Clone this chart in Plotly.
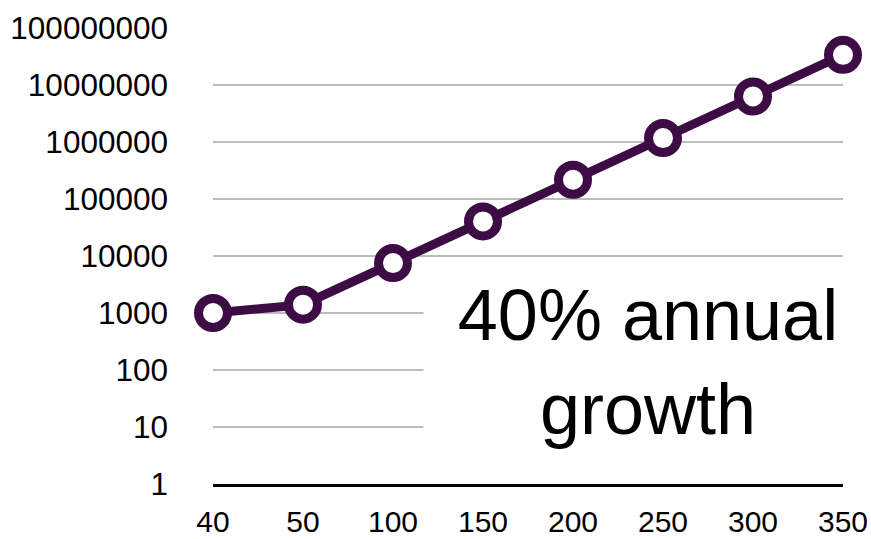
import plotly.graph_objects as go

categories = ["40", "50", "100", "150", "200", "250", "300", "350"]
values = [1000, 1400, 7500, 40500, 218000, 1170000, 6300000, 33800000]
y_tickvals = [1, 10, 100, 1000, 10000, 100000, 1000000, 10000000, 100000000]
y_ticktext = ["1", "10", "100", "1000", "10000", "100000", "1000000", "10000000", "100000000"]
note_text = "40% annual<br>growth"

FONT = "Liberation Sans, Arial, Helvetica, sans-serif"
PURPLE = "#3D0C45"

fig = go.Figure()
fig.add_trace(go.Scatter(
    x=categories, y=values, mode="lines+markers",
    line=dict(color=PURPLE, width=9),
    marker=dict(size=29, color="white", line=dict(color=PURPLE, width=9)),
    cliponaxis=False, showlegend=False,
))

fig.add_annotation(
    text=note_text, xref="paper", yref="paper",
    x=0.333, y=0.267, xanchor="left", yanchor="middle",
    showarrow=False, width=448, height=190, align="center",
    bgcolor="white", borderpad=0,
    font=dict(family=FONT, size=72, color="black"),
)

fig.update_layout(
    width=871, height=539,
    margin=dict(l=213, r=28, t=28, b=55, autoexpand=False),
    paper_bgcolor="white", plot_bgcolor="white",
    font=dict(family=FONT, size=31.5, color="black"),
)
fig.update_xaxes(
    type="category", range=[0, 7], showgrid=False, automargin=False,
    showline=True, linecolor="black", linewidth=2.5,
    ticks="", ticklabelstandoff=9,
    tickfont=dict(family=FONT, size=30, color="black"),
)
fig.update_yaxes(
    type="log", range=[0, 8], tickvals=y_tickvals, ticktext=y_ticktext,
    automargin=False,
    showgrid=True, gridcolor="#BDBDBD", gridwidth=2,
    showline=False, zeroline=False, ticks="", ticklabelstandoff=44,
    tickfont=dict(family=FONT, size=31.5, color="black"),
)

# remove the page's default body margin so the figure fills the window exactly
fig.write_html(
    "out.html",
    config={"displayModeBar": False},
    post_script="document.body.style.margin='0';document.body.style.overflow='hidden';",
)
